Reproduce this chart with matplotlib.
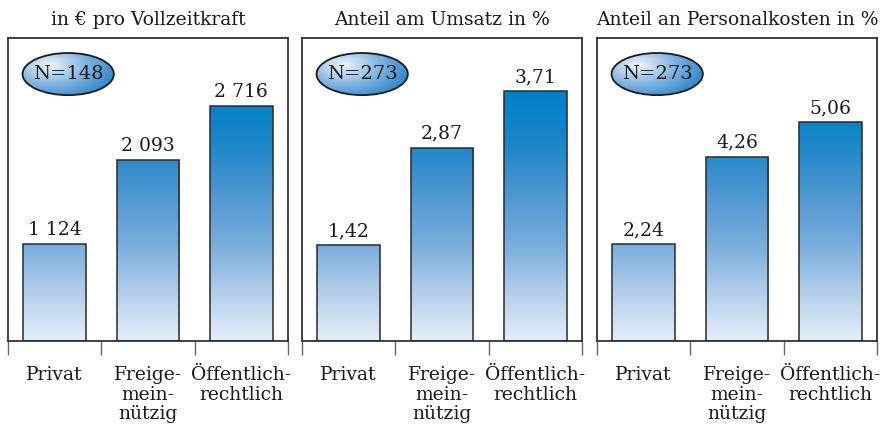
import numpy as np
import matplotlib.pyplot as plt
from matplotlib.colors import LinearSegmentedColormap
from matplotlib.patches import Ellipse

plt.rcParams['font.family'] = ['DejaVu Serif']

KATEGORIEN = ['Privat', 'Freige-\nmein-\nnützig', 'Öffentlich-\nrechtlich']
TITEL = ['in € pro Vollzeitkraft', 'Anteil am Umsatz in %', 'Anteil an Personalkosten in %']
WERTE = [[1124, 2093, 2716], [1.42, 2.87, 3.71], [2.24, 4.26, 5.06]]
GANZZAHL = [True, False, False]
FALLZAHL = [148, 273, 273]
YMAX = [3500, 4.5, 7.0]

W, H = 886, 424
LINKS = [8, 302, 597]
BREITE = 280
OBEN, UNTEN = 38, 341

verlauf = LinearSegmentedColormap.from_list('verlauf', [
    (0.0, '#e4eefa'), (0.17, '#b0cce9'), (0.32, '#78acdd'),
    (0.5, '#4a95d0'), (0.66, '#1a86c9'), (0.82, '#0080c8'), (1.0, '#0080c8')])
oval = LinearSegmentedColormap.from_list('oval', ['#eef4fb', '#7fb2e0', '#1f80c6'])


def beschriftung(v, ganz):
    if ganz:
        return f'{v:,}'.replace(',', ' ')
    return f'{v:.2f}'.replace('.', ',')


fig = plt.figure(figsize=(W / 100, H / 100), dpi=100)

grad = np.linspace(0, 1, 256).reshape(-1, 1)
gx, gy = np.meshgrid(np.linspace(0, 1, 200), np.linspace(0, 1, 100))
radial = np.clip(np.sqrt(((gx - 0.3) / 0.8) ** 2 + ((gy - 0.7) / 0.9) ** 2), 0, 1)

for i in range(3):
    ax = fig.add_axes([LINKS[i] / W, 1 - UNTEN / H, BREITE / W, (UNTEN - OBEN) / H])
    x = np.arange(3)
    balken = ax.bar(x, WERTE[i], width=0.67, color='none', edgecolor='#2a2a2a',
                    linewidth=1.1, zorder=3)
    for b in balken:
        im = ax.imshow(grad, extent=[-0.5, 2.5, 0, YMAX[i]], origin='lower',
                       aspect='auto', cmap=verlauf, zorder=2)
        im.set_clip_path(b)
    for xi, v in zip(x, WERTE[i]):
        ax.annotate(beschriftung(v, GANZZAHL[i]), (xi, v), xytext=(0, 6.5),
                    textcoords='offset points', ha='center', va='baseline',
                    fontsize=13.5, color='#1a1a1a')

    # Fallzahl im Oval oben links
    ell = Ellipse((0.215, 0.881), 0.326, 0.139, transform=ax.transAxes,
                  fc='none', ec='#1a1a1a', lw=1.3, zorder=6)
    ax.add_patch(ell)
    im = ax.imshow(radial, extent=[0.05, 0.38, 0.81, 0.952], origin='lower',
                   aspect='auto', cmap=oval, transform=ax.transAxes, zorder=5)
    im.set_clip_path(ell)
    ax.text(0.215, 0.881, f'N={FALLZAHL[i]}', transform=ax.transAxes,
            ha='center', va='center', fontsize=14, color='#1a1a1a', zorder=7)

    ax.set_xlim(-0.5, 2.5)
    ax.set_ylim(0, YMAX[i])
    ax.set_yticks([])
    ax.set_xticks([-0.5, 0.5, 1.5, 2.5], minor=True)
    ax.set_xticks(x)
    ax.set_xticklabels(KATEGORIEN, fontsize=13.5, linespacing=1.12, color='#1a1a1a')
    ax.tick_params(axis='x', which='major', length=0, pad=18)
    ax.tick_params(axis='x', which='minor', length=10, width=1, color='#666666')
    for s in ax.spines.values():
        s.set_color('#333333')
        s.set_linewidth(1.3)

    fig.text((LINKS[i] + BREITE / 2) / W, 1 - 25 / H, TITEL[i], ha='center',
             va='baseline', fontsize=13.5, color='#1a1a1a')

fig.savefig('out.png', dpi=100)
